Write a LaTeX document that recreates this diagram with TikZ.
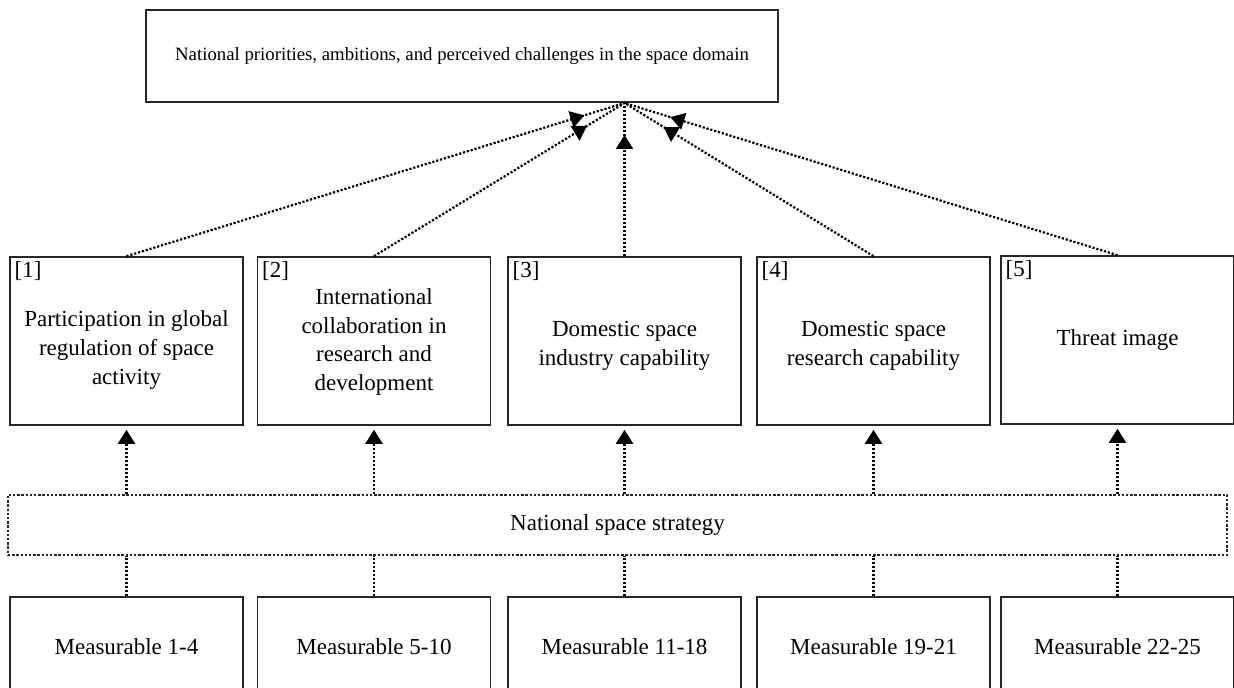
\documentclass[tikz,border=0pt]{standalone}
\usepackage{fontspec}
\setmainfont{Liberation Serif}
\usetikzlibrary{arrows.meta,decorations.markings}

\begin{document}
\begin{tikzpicture}[x=0.5pt,y=-0.5pt,
  every node/.style={font=\fontsize{11.5}{14.3}\selectfont},
  box/.style={draw=black!85,line width=0.8pt,align=center,inner sep=2pt},
  factor/.style={box,minimum width=116.5pt,minimum height=84pt},
  measure/.style={box,minimum width=116.5pt,minimum height=50pt},
  number/.style={anchor=north west,inner sep=2.5pt},
  words/.style={align=center,inner sep=0pt},
  strategybox/.style={draw=black!85,line width=0.6pt,dash pattern=on 1.2pt off 0.9pt,
    minimum width=609.5pt,minimum height=30pt},
  link/.style={line width=1.1pt,dash pattern=on 1.1pt off 0.9pt},
  up/.style={link,-{Triangle[width=8.5pt,length=7pt]},shorten >=2pt},
  toward/.style={link,postaction={decorate},
    decoration={markings,mark=at position -#1 with {\arrow{Triangle[width=8.5pt,length=7pt]}}}}]
\clip (0,0) rectangle (1234,688);
% top
\node[box,line width=1pt,minimum width=316pt,minimum height=46pt,
  font=\fontsize{9.4}{11}\selectfont] (domain) at (462,56)
  {National priorities, ambitions, and perceived challenges in the space domain};
% factors
\node[factor,label={[number]north west:{[1]}}] (f1) at (126.5,341) {};
\node[factor,label={[number]north west:{[2]}}] (f2) at (374,341) {};
\node[factor,label={[number]north west:{[3]}}] (f3) at (624.5,341) {};
\node[factor,label={[number]north west:{[4]}}] (f4) at (873.5,341) {};
\node[factor,label={[number]north west:{[5]}}] (f5) at (1117.5,340) {};
\node[words] (t1) at ([yshift=-4.5pt]f1.center) {Participation in global\\regulation of space\\activity};
\node[words] (t2) at ([yshift=-0.5pt]f2.center) {International\\collaboration in\\research and\\development};
\node[words] (t3) at ([yshift=-2.5pt]f3.center) {Domestic space\\industry capability};
\node[words] (t4) at ([yshift=-2.5pt]f4.center) {Domestic space\\research capability};
\node[words] (t5) at (f5.center) {Threat image};
% strategy
\node[strategybox] (strategy) at (617.5,525) {National space strategy};
% measurables
\node[measure] (m1) at (126.5,647) {Measurable 1-4};
\node[measure] (m2) at (374,647) {Measurable 5-10};
\node[measure] (m3) at (624.5,647) {Measurable 11-18};
\node[measure] (m4) at (873.5,647) {Measurable 19-21};
\node[measure] (m5) at (1117.5,647) {Measurable 22-25};
\coordinate (hub) at (domain.south -| f3.north);
% factors to top
\draw[toward=21pt] (f1.north) -- (hub);
\draw[toward=22pt] (f2.north) -- (hub);
\draw[toward=16pt] (f3.north) -- (hub);
\draw[toward=23pt] (f4.north) -- (hub);
\draw[toward=24pt] (f5.north) -- (hub);
% strategy to factors
\draw[up] (strategy.north -| f1.south) -- (f1.south);
\draw[up] (strategy.north -| f2.south) -- (f2.south);
\draw[up] (strategy.north -| f3.south) -- (f3.south);
\draw[up] (strategy.north -| f4.south) -- (f4.south);
\draw[up] (strategy.north -| f5.south) -- (f5.south);
% measurables to strategy
\draw[link] (m1.north) -- (strategy.south -| m1.north);
\draw[link] (m2.north) -- (strategy.south -| m2.north);
\draw[link] (m3.north) -- (strategy.south -| m3.north);
\draw[link] (m4.north) -- (strategy.south -| m4.north);
\draw[link] (m5.north) -- (strategy.south -| m5.north);
\end{tikzpicture}
\end{document}
